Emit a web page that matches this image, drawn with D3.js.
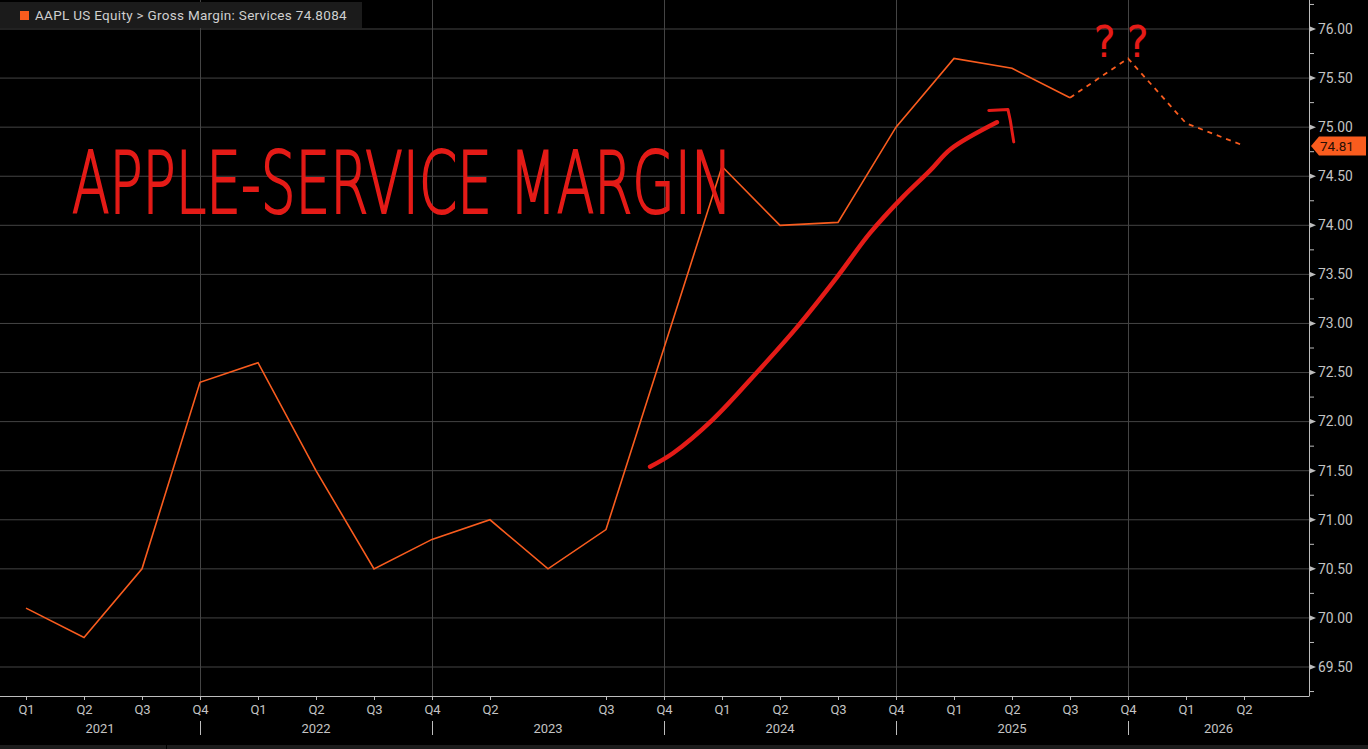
<!DOCTYPE html>
<meta charset="utf-8">
<script src="https://d3js.org/d3.v7.min.js"></script>
<style>
  body { margin: 0; background: #000; overflow: hidden; }
  text { font-family: Roboto, "Liberation Sans", sans-serif; }
</style>
<div id="chart"></div>
<script>

// quarter labels along the bottom (Bloomberg skips one tick in 2023)
var quarterLabels = ["Q1","Q2","Q3","Q4","Q1","Q2","Q3","Q4","Q2","","Q3","Q4",
                     "Q1","Q2","Q3","Q4","Q1","Q2","Q3","Q4","Q1","Q2"];
var years = ["2021","2022","2023","2024","2025","2026"];
// index of the quarter where each year starts (vertical separators)
var yearStarts = [3, 7, 11, 15, 19];

// gross margin: services, reported
var actualMargin = [70.10, 69.80, 70.50, 72.40, 72.60, 71.50, 70.50, 70.80, 71.00, 70.50,
                    70.90, null, 74.60, 74.00, 74.03, 75.00, 75.70, 75.60, 75.30];
// estimates (dotted)
var estimateIdx = [18, 19, 20, 21];
var estimateMargin = [75.30, 75.70, 75.04, 74.81];

var yTicks = [69.5, 70, 70.5, 71, 71.5, 72, 72.5, 73, 73.5, 74, 74.5, 75, 75.5, 76];
var lastValue = 74.8084;

// hand drawn trend arrow, in [quarter index, margin] coordinates
var trendArrow = [[10.76,71.54],[11.16,71.68],[11.84,72.02],[12.60,72.50],[13.29,72.96],
                  [13.98,73.47],[14.55,73.92],[15.12,74.29],[15.59,74.56],[15.95,74.78],
                  [16.74,75.05]];
var arrowHead = [[16.60,75.17],[16.93,75.18],[16.97,75.07],[17.03,74.85]];

var W = 1368, H = 749;
var plotRight = 1309, plotBottom = 696;
var orange = "#f95c1e", red = "#e41b17";
var grid = "#444", axisCol = "#bdbdbd", txt = "#c4c4c4";

var svg = d3.select("#chart").append("svg")
  .attr("width", W).attr("height", H)
  .style("background", "#000");

var x = d3.scaleLinear().domain([0, 21]).range([26, 1244]);
var y = d3.scaleLinear().domain([69.2046, 76.2955]).range([plotBottom, 0]);

// horizontal grid
svg.append("g").selectAll("line")
  .data(yTicks).enter().append("line")
    .attr("x1", 0).attr("x2", plotRight)
    .attr("y1", d => y(d)).attr("y2", d => y(d))
    .attr("stroke", grid).attr("stroke-width", 1);

// vertical grid at year breaks
svg.append("g").selectAll("line")
  .data(yearStarts).enter().append("line")
    .attr("x1", d => Math.round(x(d)) + 0.5).attr("x2", d => Math.round(x(d)) + 0.5)
    .attr("y1", 0).attr("y2", plotBottom)
    .attr("stroke", grid).attr("stroke-width", 1);

// legend
var leg = svg.append("g");
leg.append("rect").attr("x", 0).attr("y", 2).attr("width", 362).attr("height", 26).attr("fill", "#1b1b1b");
leg.append("rect").attr("x", 20).attr("y", 11).attr("width", 9).attr("height", 9).attr("fill", orange);
leg.append("text").attr("x", 35).attr("y", 20).attr("fill", "#cfcfcf").attr("font-size", 13.5)
  .attr("letter-spacing", 0.3)
  .text("AAPL US Equity > Gross Margin: Services " + lastValue);

// x axis
var xAxis = d3.axisBottom(x)
  .tickValues(d3.range(22).filter(i => quarterLabels[i] !== ""))
  .tickFormat(i => quarterLabels[i])
  .tickSize(4).tickPadding(5);
var gx = svg.append("g").attr("transform", "translate(0," + plotBottom + ")").call(xAxis);
gx.select(".domain").remove();
gx.selectAll(".tick line").attr("stroke", axisCol);
gx.selectAll(".tick text").attr("fill", txt).attr("font-size", 13);
gx.append("line").attr("x1", 0).attr("x2", plotRight).attr("y1", 0.5).attr("y2", 0.5).attr("stroke", axisCol);

// year separators and labels
gx.selectAll(".sep").data(yearStarts).enter().append("line")
  .attr("x1", d => Math.round(x(d)) + 0.5).attr("x2", d => Math.round(x(d)) + 0.5)
  .attr("y1", 25).attr("y2", 39).attr("stroke", axisCol);
var edges = [x.invert(0)].concat(yearStarts).concat([x.invert(plotRight)]);
gx.selectAll(".yr").data(years).enter().append("text")
  .attr("x", (d, i) => (x(edges[i]) + x(edges[i + 1])) / 2)
  .attr("y", 37).attr("text-anchor", "middle")
  .attr("fill", txt).attr("font-size", 13).text(d => d);

// right y axis
var gy = svg.append("g").attr("transform", "translate(" + plotRight + ",0)");
gy.append("line").attr("x1", 0.5).attr("x2", 0.5).attr("y1", 0).attr("y2", plotBottom + 0.5).attr("stroke", axisCol);
gy.selectAll(".minor").data(yTicks.map(d => d - 0.25).concat([76.25])).enter().append("line")
  .attr("x1", 0).attr("x2", 5).attr("y1", d => y(d)).attr("y2", d => y(d)).attr("stroke", axisCol);
gy.selectAll(".tri").data(yTicks).enter().append("path")
  .attr("d", d => "M1," + (y(d) - 2.5) + "L7," + y(d) + "L1," + (y(d) + 2.5) + "Z")
  .attr("fill", axisCol);
gy.selectAll(".lbl").data(yTicks).enter().append("text")
  .attr("x", 9).attr("y", d => y(d)).attr("dy", "0.35em")
  .attr("fill", txt).attr("font-size", 13.8).text(d => d.toFixed(2));

// series
var line = d3.line().x(d => x(d[0])).y(d => y(d[1]));
var actualPts = actualMargin.map((v, i) => [i, v]).filter(d => d[1] != null);
svg.append("path").datum(actualPts)
  .attr("d", line).attr("fill", "none").attr("stroke", orange).attr("stroke-width", 1.6);
svg.append("path").datum(estimateIdx.map((q, i) => [q, estimateMargin[i]]))
  .attr("d", line).attr("fill", "none").attr("stroke", orange)
  .attr("stroke-width", 1.8).attr("stroke-dasharray", "5,5");

// last value tag
var ty = y(lastValue);
svg.append("path")
  .attr("d", "M" + (plotRight + 2) + "," + ty + "L" + (plotRight + 10) + "," + (ty - 9.5) +
    "L1366," + (ty - 9.5) + "L1366," + (ty + 9.5) + "L" + (plotRight + 10) + "," + (ty + 9.5) + "Z")
  .attr("fill", orange);
svg.append("text").attr("x", plotRight + 11).attr("y", ty).attr("dy", "0.36em")
  .attr("fill", "#2a0f05").attr("font-size", 13.5).text(lastValue.toFixed(2));

// hand-drawn annotations
var ann = svg.append("g");
ann.append("text")
  .attr("x", 72).attr("y", 213)
  .attr("textLength", 660).attr("lengthAdjust", "spacingAndGlyphs")
  .attr("font-size", 86).attr("font-weight", 200)
  .style("font-family", "'DejaVu Sans', sans-serif")
  .attr("fill", red).attr("stroke", red).attr("stroke-width", 2.2)
  .text("APPLE-SERVICE MARGIN");
ann.append("path").datum(trendArrow)
  .attr("d", d3.line().x(d => x(d[0])).y(d => y(d[1])).curve(d3.curveCatmullRom))
  .attr("fill", "none").attr("stroke", red).attr("stroke-width", 4.5).attr("stroke-linecap", "round");
ann.append("path").datum(arrowHead)
  .attr("d", d3.line().x(d => x(d[0])).y(d => y(d[1])))
  .attr("fill", "none").attr("stroke", red).attr("stroke-width", 3).attr("stroke-linecap", "round")
  .attr("stroke-linejoin", "round");
ann.selectAll(".q").data([18.6, 19.17]).enter().append("text")
  .attr("x", d => x(d)).attr("y", y(75.72)).attr("text-anchor", "middle")
  .attr("font-size", 40).attr("font-weight", 200)
  .style("font-family", "'DejaVu Sans', sans-serif")
  .attr("fill", red).attr("stroke", red).attr("stroke-width", 2)
  .text("?");

// bottom status strip
svg.append("rect").attr("x", 0).attr("y", 745).attr("width", W).attr("height", 4).attr("fill", "#1c1c1c");
svg.append("line").attr("x1", 166.5).attr("x2", 166.5).attr("y1", 745).attr("y2", 749).attr("stroke", "#000");

</script>
